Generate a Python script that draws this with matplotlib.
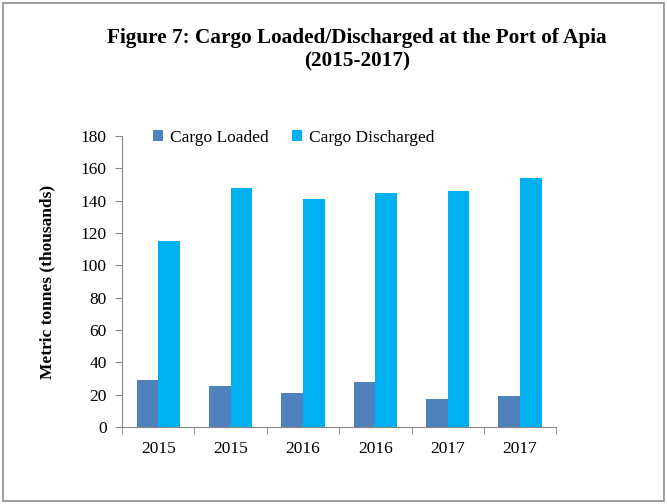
import matplotlib.pyplot as plt
import numpy as np
from matplotlib.patches import Rectangle

years = ["2015", "2015", "2016", "2016", "2017", "2017"]
cargo_loaded = [29, 25, 21, 28, 17, 19]
cargo_discharged = [115, 148, 141, 145, 146, 154]

plt.rcParams["font.family"] = ["Liberation Serif", "DejaVu Serif"]

fig = plt.figure(figsize=(6.67, 5.04), dpi=100)
ax = fig.add_axes([0.183, 0.153, 0.651, 0.577])

# outer frame like the original screenshot
fig.patches.append(Rectangle((0.005, 0.006), 0.99, 0.988, transform=fig.transFigure,
                             fill=False, edgecolor="#8c8c8c", linewidth=1.2))

x = np.arange(len(years))
w = 0.3
ax.bar(x - w / 2, cargo_loaded, w, color="#4f81bd", label="Cargo Loaded")
ax.bar(x + w / 2, cargo_discharged, w, color="#00b0f0", label="Cargo Discharged")

ax.set_xlim(-0.5, len(years) - 0.5)
ax.set_ylim(0, 180)
ax.set_yticks(range(0, 181, 20))
ax.set_xticks(x)
ax.set_xticklabels(years)
ax.set_xticks(np.arange(-0.5, len(years)), minor=True)
ax.tick_params(axis="x", which="major", length=0, pad=10, labelsize=12.5)
ax.tick_params(axis="x", which="minor", length=5, color="#868686", direction="out")
ax.tick_params(axis="y", length=5, color="#868686", labelsize=12.5, pad=6)

for s in ["top", "right"]:
    ax.spines[s].set_visible(False)
for s in ["left", "bottom"]:
    ax.spines[s].set_color("#868686")

ax.set_ylabel("Metric tonnes (thousands)", fontsize=12.5, fontweight="bold", labelpad=18)

fig.suptitle("Figure 7: Cargo Loaded/Discharged at the Port of Apia\n(2015-2017)",
             x=0.535, y=0.945, fontsize=15.3, fontweight="bold", linespacing=1.25)

ax.legend(loc="upper left", bbox_to_anchor=(0.055, 1.045), ncol=2, frameon=False,
          fontsize=12.5, handlelength=0.6, handleheight=0.6, handletextpad=0.4,
          columnspacing=1.3, borderaxespad=0)

fig.savefig("out.png", dpi=100)
